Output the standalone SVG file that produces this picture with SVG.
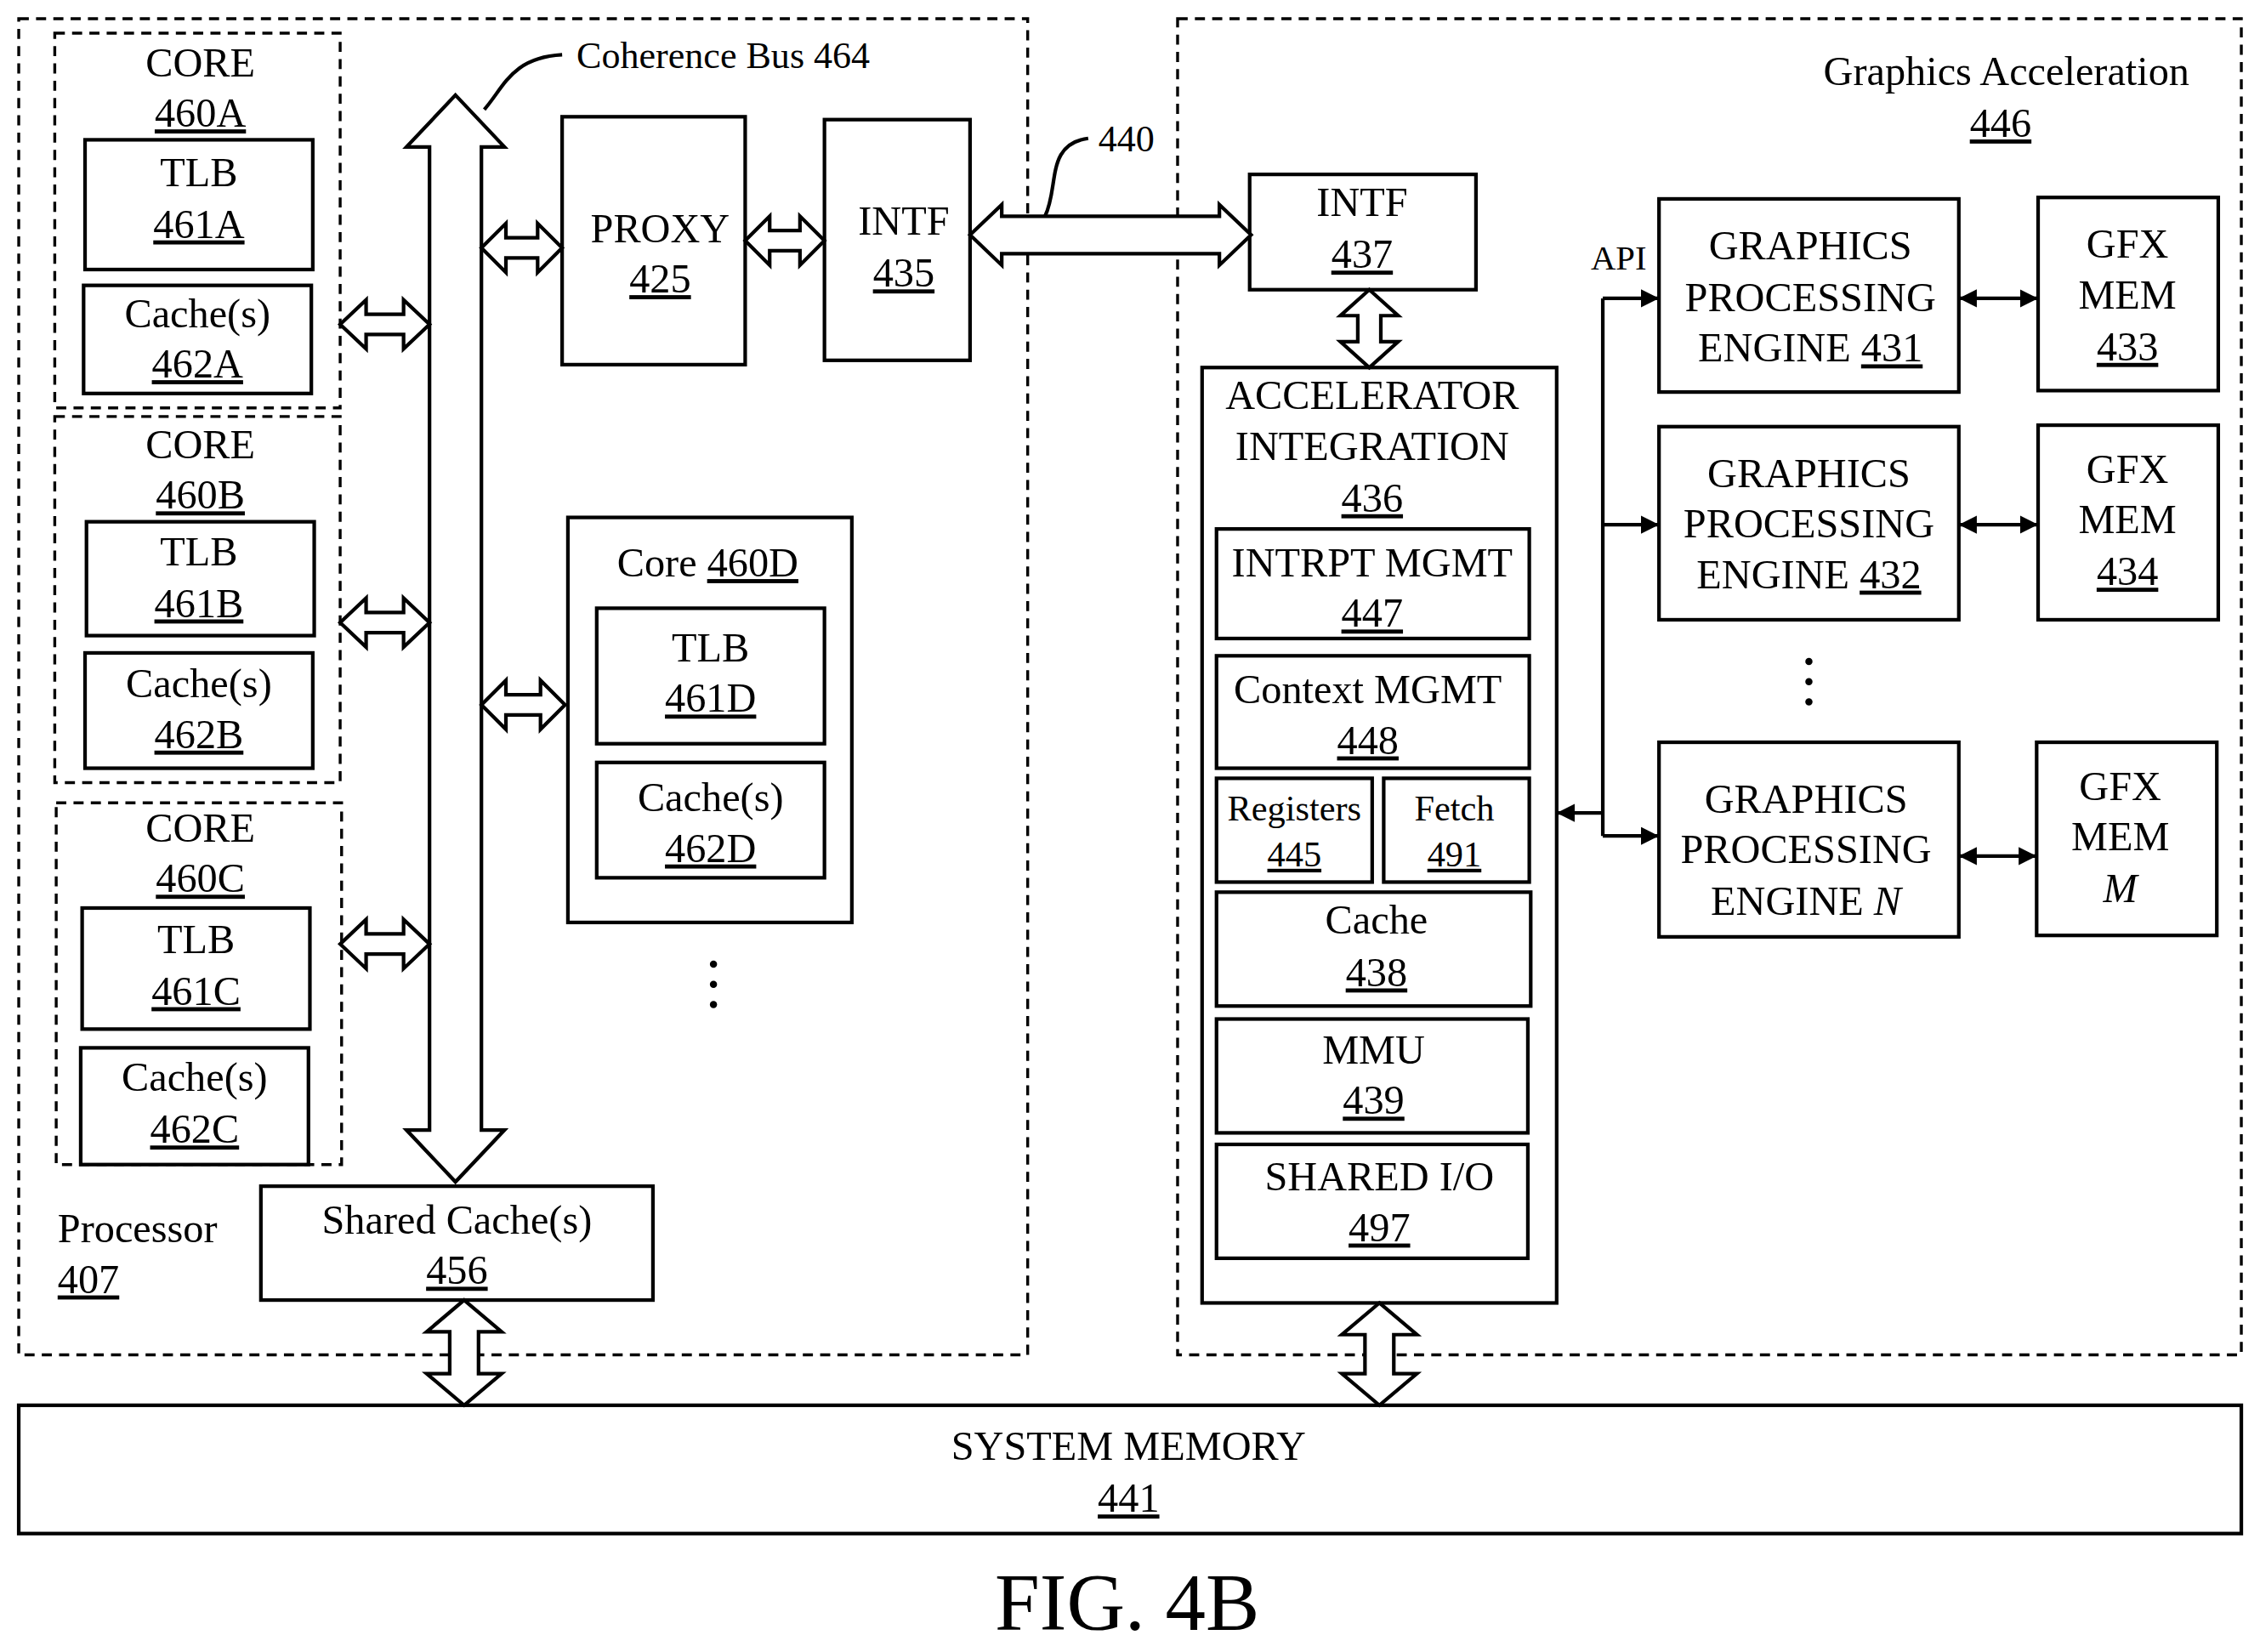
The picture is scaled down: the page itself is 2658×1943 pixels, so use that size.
<svg xmlns="http://www.w3.org/2000/svg" width="2658" height="1943" viewBox="0 0 2658 1943">
<defs>
<style>
.b{fill:#fff;stroke:#000;stroke-width:2.5}
.d{fill:none;stroke:#000;stroke-width:2;stroke-dasharray:7,5}
.a{fill:#fff;stroke:#000;stroke-width:2.5}
.l{fill:none;stroke:#000;stroke-width:2.5}
text{font-family:"Liberation Serif","Times New Roman",serif;font-size:28.5px;text-anchor:middle;fill:#000}
.u{text-decoration:underline}
.s{font-size:25px}
</style>
<marker id="ah" viewBox="0 0 10 10" refX="10" refY="5" markerWidth="5" markerHeight="5" orient="auto-start-reverse"><path d="M0,0L10,5L0,10z" fill="#000"/></marker>
</defs>
<rect width="2658" height="1943" fill="#fff"/>
<g transform="scale(1.6952)">
<g id="processor"><rect class="d" x="13" y="13" width="700" height="927"/><text x="40" y="862" style="text-anchor:start">Processor</text><text x="40" y="897" class="u" style="text-anchor:start">407</text></g>
<g id="graphics"><rect class="d" x="817" y="13" width="738" height="927"/><text x="1519" y="59" style="text-anchor:end">Graphics Acceleration</text><text x="1388" y="95" class="u">446</text></g>
<g id="coreA"><rect class="d" x="38" y="23" width="198" height="260"/><text x="139" y="53">CORE</text><text x="139" y="88" class="u">460A</text>
<rect class="b" x="59" y="97" width="158" height="90"/><text x="138" y="129">TLB</text><text x="138" y="165" class="u">461A</text>
<rect class="b" x="58" y="198" width="158" height="75"/><text x="137" y="227">Cache(s)</text><text x="137" y="262" class="u">462A</text></g>
<g id="coreB"><rect class="d" x="38" y="289" width="198" height="254"/><text x="139" y="318">CORE</text><text x="139" y="353" class="u">460B</text>
<rect class="b" x="60" y="362" width="158" height="79"/><text x="138" y="392">TLB</text><text x="138" y="428" class="u">461B</text>
<rect class="b" x="59" y="453" width="158" height="80"/><text x="138" y="484">Cache(s)</text><text x="138" y="519" class="u">462B</text></g>
<g id="coreC"><rect class="d" x="39" y="557" width="198" height="251"/><text x="139" y="584">CORE</text><text x="139" y="619" class="u">460C</text>
<rect class="b" x="57" y="630" width="158" height="84"/><text x="136" y="661">TLB</text><text x="136" y="697" class="u">461C</text>
<rect class="b" x="56" y="727" width="158" height="81"/><text x="135" y="757">Cache(s)</text><text x="135" y="793" class="u">462C</text></g>
<g id="proxy"><rect class="b" x="390" y="81" width="127" height="172"/><text x="458" y="168">PROXY</text><text x="458" y="203" class="u">425</text></g>
<g id="intf435"><rect class="b" x="572" y="83" width="101" height="167"/><text x="627" y="163">INTF</text><text x="627" y="199" class="u">435</text></g>
<g id="intf437"><rect class="b" x="867" y="121" width="157" height="80"/><text x="945" y="150">INTF</text><text x="945" y="186" class="u">437</text></g>
<g id="core460D"><rect class="b" x="394" y="359" width="197" height="281"/><text x="491" y="400">Core <tspan class="u">460D</tspan></text>
<rect class="b" x="414" y="422" width="158" height="94"/><text x="493" y="459">TLB</text><text x="493" y="494" class="u">461D</text>
<rect class="b" x="414" y="529" width="158" height="80"/><text x="493" y="563">Cache(s)</text><text x="493" y="598" class="u">462D</text>
<circle cx="495" cy="669" r="2.5"/><circle cx="495" cy="683" r="2.5"/><circle cx="495" cy="697" r="2.5"/></g>
<g id="sharedcache"><rect class="b" x="181" y="823" width="272" height="79"/><text x="317" y="856">Shared Cache(s)</text><text x="317" y="891" class="u">456</text></g>
<g id="acc"><rect class="b" x="834" y="255" width="246" height="649"/><text x="952" y="284">ACCELERATOR</text><text x="952" y="319">INTEGRATION</text><text x="952" y="355" class="u">436</text>
<rect class="b" x="844" y="367" width="217" height="76"/><text x="952" y="400">INTRPT MGMT</text><text x="952" y="435" class="u">447</text>
<rect class="b" x="844" y="455" width="217" height="78"/><text x="949" y="488">Context MGMT</text><text x="949" y="523" class="u">448</text>
<rect class="b" x="844" y="540" width="108" height="72"/><text x="898" y="569" class="s">Registers</text><text x="898" y="601" class="s u">445</text>
<rect class="b" x="960" y="540" width="101" height="72"/><text x="1009" y="569" class="s">Fetch</text><text x="1009" y="601" class="s u">491</text>
<rect class="b" x="844" y="619" width="218" height="79"/><text x="955" y="648">Cache</text><text x="955" y="684" class="u">438</text>
<rect class="b" x="844" y="707" width="216" height="79"/><text x="953" y="738">MMU</text><text x="953" y="773" class="u">439</text>
<rect class="b" x="844" y="794" width="216" height="79"/><text x="957" y="826">SHARED I/O</text><text x="957" y="861" class="u">497</text></g>
<g id="gpe431"><rect class="b" x="1151" y="138" width="208" height="134"/><text x="1256" y="180">GRAPHICS</text><text x="1256" y="216">PROCESSING</text><text x="1256" y="251">ENGINE <tspan class="u">431</tspan></text></g>
<g id="gfx433"><rect class="b" x="1414" y="137" width="125" height="134"/><text x="1476" y="179">GFX</text><text x="1476" y="214">MEM</text><text x="1476" y="250" class="u">433</text></g>
<g id="gpe432"><rect class="b" x="1151" y="296" width="208" height="134"/><text x="1255" y="338">GRAPHICS</text><text x="1255" y="373">PROCESSING</text><text x="1255" y="408">ENGINE <tspan class="u">432</tspan></text></g>
<g id="gfx434"><rect class="b" x="1414" y="295" width="125" height="135"/><text x="1476" y="335">GFX</text><text x="1476" y="370">MEM</text><text x="1476" y="406" class="u">434</text></g>
<g id="gpeN"><rect class="b" x="1151" y="515" width="208" height="135"/><text x="1253" y="564">GRAPHICS</text><text x="1253" y="599">PROCESSING</text><text x="1253" y="635">ENGINE <tspan font-style="italic">N</tspan></text></g>
<g id="gfxM"><rect class="b" x="1413" y="515" width="125" height="134"/><text x="1471" y="555">GFX</text><text x="1471" y="590">MEM</text><text x="1471" y="626" font-style="italic">M</text></g>
<g id="dots2"><circle cx="1255" cy="459" r="2.5"/><circle cx="1255" cy="473" r="2.5"/><circle cx="1255" cy="487" r="2.5"/></g>
<g id="sysmem"><rect class="b" x="13" y="975" width="1542" height="89"/><text x="783" y="1013">SYSTEM MEMORY</text><text x="783" y="1049" class="u">441</text></g>
<text x="782" y="1131" style="font-size:56px">FIG. 4B</text>
<g id="connectors">
<polygon class="a" points="316,66 350,102 334,102 334,784 350,784 316,820 282,784 298,784 298,102 282,102"/>
<polygon class="a" points="236,225 254,208 254,218 280,218 280,208 298,225 280,242 280,232 254,232 254,242"/>
<polygon class="a" points="236,432 254,415 254,425 280,425 280,415 298,432 280,449 280,439 254,439 254,449"/>
<polygon class="a" points="236,655 254,638 254,648 280,648 280,638 298,655 280,672 280,662 254,662 254,672"/>
<polygon class="a" points="334,172 351,155 351,165 373,165 373,155 390,172 373,189 373,179 351,179 351,189"/>
<polygon class="a" points="334,489 351,472 351,482 375,482 375,472 392,489 375,506 375,496 351,496 351,506"/>
<polygon class="a" points="517,167 534,150 534,160 555,160 555,150 572,167 555,184 555,174 534,174 534,184"/>
<polygon class="a" points="673,163 695,142 695,150 846,150 846,142 868,163 846,184 846,176 695,176 695,184"/>
<polygon class="a" points="950,201 970,219 958,219 958,237 970,237 950,255 930,237 942,237 942,219 930,219"/>
<polygon class="a" points="322,902 348,924 332,924 332,953 348,953 322,975 296,953 312,953 312,924 296,924"/>
<polygon class="a" points="957,904 983,926 967,926 967,953 983,953 957,975 931,953 947,953 947,926 931,926"/>
<path class="l" d="M336,76 C350,60 355,40 390,38"/><text x="400" y="47" style="text-anchor:start;font-size:26px">Coherence Bus 464</text>
<path class="l" d="M725,150 C735,130 725,100 755,96"/><text x="762" y="105" style="text-anchor:start;font-size:26px">440</text>
<line class="l" x1="1359" y1="207" x2="1414" y2="207" marker-start="url(#ah)" marker-end="url(#ah)"/>
<line class="l" x1="1359" y1="364" x2="1414" y2="364" marker-start="url(#ah)" marker-end="url(#ah)"/>
<line class="l" x1="1359" y1="594" x2="1413" y2="594" marker-start="url(#ah)" marker-end="url(#ah)"/>
<line class="l" x1="1112" y1="564" x2="1080" y2="564" marker-end="url(#ah)"/>
<path class="l" d="M1112,207 V580"/>
<line class="l" x1="1112" y1="207" x2="1151" y2="207" marker-end="url(#ah)"/>
<line class="l" x1="1112" y1="364" x2="1151" y2="364" marker-end="url(#ah)"/>
<line class="l" x1="1112" y1="580" x2="1151" y2="580" marker-end="url(#ah)"/>
<text x="1123" y="187" style="font-size:24px">API</text>
</g>
</g>
</svg>
